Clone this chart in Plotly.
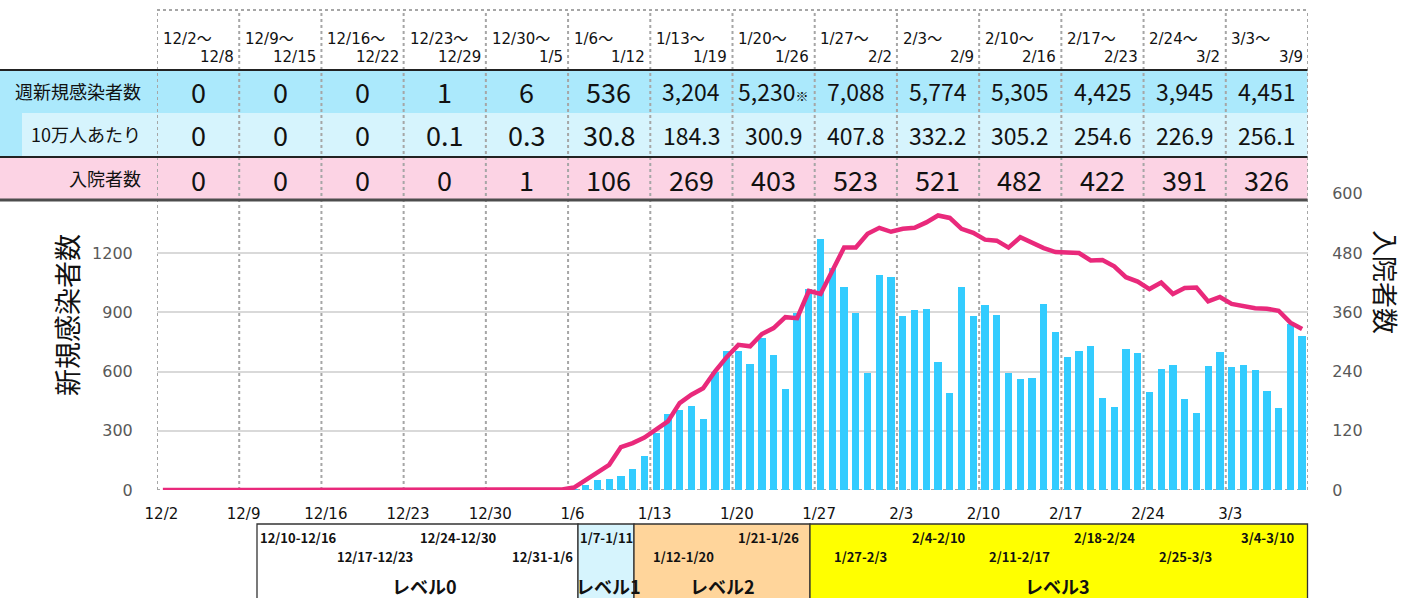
import plotly.graph_objects as go
import pandas as pd

W, H = 1404, 598

# ---------------- data ----------------
week_start_labels = ["12/2～", "12/9～", "12/16～", "12/23～", "12/30～", "1/6～", "1/13～",
                     "1/20～", "1/27～", "2/3～", "2/10～", "2/17～", "2/24～", "3/3～"]
week_end_labels = ["12/8", "12/15", "12/22", "12/29", "1/5", "1/12", "1/19",
                   "1/26", "2/2", "2/9", "2/16", "2/23", "3/2", "3/9"]
weekly_cases = ["0", "0", "0", "1", "6", "536", "3,204", "5,230※", "7,088",
                "5,774", "5,305", "4,425", "3,945", "4,451"]
per_100k = ["0", "0", "0", "0.1", "0.3", "30.8", "184.3", "300.9", "407.8",
            "332.2", "305.2", "254.6", "226.9", "256.1"]
weekly_hosp = ["0", "0", "0", "0", "1", "106", "269", "403", "523",
               "521", "482", "422", "391", "326"]
axis_tick_labels = ["12/2", "12/9", "12/16", "12/23", "12/30", "1/6", "1/13",
                    "1/20", "1/27", "2/3", "2/10", "2/17", "2/24", "3/3"]

dates = pd.date_range("2021-12-02", "2022-03-09", freq="D")

daily_cases = (
    [0, 0, 0, 0, 0, 0, 0] +
    [0, 0, 0, 0, 0, 0, 0] +
    [0, 0, 0, 0, 0, 0, 0] +
    [0, 0, 0, 0, 1, 0, 0] +
    [0, 1, 0, 0, 1, 2, 2] +
    [8, 25, 54, 56, 71, 106, 172] +
    [291, 385, 406, 426, 360, 600, 706] +
    [705, 639, 769, 683, 512, 896, 1017] +
    [1274, 1124, 1031, 896, 592, 1088, 1080] +
    [882, 914, 918, 649, 490, 1028, 880] +
    [936, 887, 592, 563, 570, 941, 799] +
    [673, 703, 730, 465, 421, 715, 693] +
    [500, 612, 632, 460, 389, 630, 698] +
    [625, 634, 610, 505, 414, 842, 781]
)

hospitalized = (
    [0] * 34 + [1] +
    [5, 20, 34, 51, 87, 95, 106] +
    [122, 139, 176, 193, 206, 240, 269] +
    [294, 291, 316, 328, 350, 348, 403] +
    [397, 446, 491, 491, 519, 531, 523] +
    [529, 531, 542, 556, 551, 529, 521] +
    [507, 505, 491, 512, 500, 490, 482] +
    [481, 480, 465, 466, 453, 431, 422] +
    [407, 420, 397, 409, 410, 382, 391] +
    [377, 372, 368, 367, 363, 339, 326]
)

level_names = ["レベル0", "レベル1", "レベル2", "レベル3"]
period_labels_a = ["12/10-12/16", "12/24-12/30", "1/7-1/11", "1/21-1/26", "2/4-2/10", "2/18-2/24", "3/4-3/10"]
period_labels_b = ["12/17-12/23", "12/31-1/6", "1/12-1/20", "1/27-2/3", "2/11-2/17", "2/25-3/3"]

# ---------------- helpers ----------------
def px(x):
    return x / W

def py(y):
    return 1 - y / H

HALF = pd.Timedelta(hours=12)
boundaries = [dates[0] - HALF + pd.Timedelta(days=7 * k) for k in range(15)]

JP = "Noto Sans CJK JP"
VER = "DejaVu Sans, Noto Sans CJK JP"

C_ROW1 = "#abe9fc"
C_ROW2 = "#d6f4fd"
C_ROW3 = "#fcd3e4"
C_BAR = "#33ccff"
C_LINE = "#e9297b"

fig = go.Figure()

fig.add_trace(go.Bar(
    x=dates, y=daily_cases, marker=dict(color=C_BAR, line=dict(width=0)),
    width=0.62 * 86400000, yaxis="y", showlegend=False, hoverinfo="x+y"))

fig.add_trace(go.Scatter(
    x=dates, y=hospitalized, mode="lines", line=dict(color=C_LINE, width=4.5),
    yaxis="y2", showlegend=False))

shapes = []
T_L, T_R = 0, 1307.5
shapes.append(dict(type="rect", xref="paper", yref="paper", x0=px(T_L), x1=px(T_R),
                   y0=py(113), y1=py(70), fillcolor=C_ROW1, line=dict(width=0), layer="below"))
shapes.append(dict(type="rect", xref="paper", yref="paper", x0=px(0), x1=px(22),
                   y0=py(157), y1=py(113), fillcolor=C_ROW1, line=dict(width=0), layer="below"))
shapes.append(dict(type="rect", xref="paper", yref="paper", x0=px(22), x1=px(T_R),
                   y0=py(157), y1=py(113), fillcolor=C_ROW2, line=dict(width=0), layer="below"))
shapes.append(dict(type="rect", xref="paper", yref="paper", x0=px(T_L), x1=px(T_R),
                   y0=py(200), y1=py(157), fillcolor=C_ROW3, line=dict(width=0), layer="below"))

for b in boundaries:
    shapes.append(dict(type="line", xref="x", yref="paper", x0=b, x1=b,
                       y0=py(490), y1=py(10), line=dict(color="#a6a6a6", width=2, dash="dot"),
                       layer="below"))
shapes.append(dict(type="line", xref="x", yref="paper", x0=boundaries[0], x1=boundaries[-1],
                   y0=py(10), y1=py(10), line=dict(color="#a6a6a6", width=2, dash="dot"), layer="below"))
shapes.append(dict(type="line", xref="x", yref="y", x0=boundaries[0], x1=boundaries[-1],
                   y0=0, y1=0, line=dict(color="#a6a6a6", width=2, dash="dot"), layer="below"))

shapes.append(dict(type="line", xref="paper", yref="paper", x0=px(0), x1=px(T_R),
                   y0=py(70), y1=py(70), line=dict(color="#222222", width=2)))
shapes.append(dict(type="line", xref="paper", yref="paper", x0=px(0), x1=px(T_R),
                   y0=py(157), y1=py(157), line=dict(color="#222222", width=2)))
shapes.append(dict(type="line", xref="paper", yref="paper", x0=px(0), x1=px(T_R),
                   y0=py(200), y1=py(200), line=dict(color="#4d4d4d", width=3)))

level_boxes = [(257, 578, "#ffffff"), (578, 634, C_ROW2), (634, 810, "#ffd59b"), (810, 1307.5, "#ffff00")]
for x0, x1, col in level_boxes:
    shapes.append(dict(type="rect", xref="paper", yref="paper", x0=px(x0), x1=px(x1),
                       y0=py(610), y1=py(524), fillcolor=col,
                       line=dict(color="#333333", width=1.3)))

annotations = []
col_w = (1307.5 - 157) / 14
for i in range(14):
    cl = 157 + i * col_w
    cr = cl + col_w
    annotations.append(dict(x=px(cl + 4), y=py(39), xref="paper", yref="paper", xanchor="left",
                            yanchor="middle", text=week_start_labels[i], showarrow=False,
                            font=dict(family=VER, size=15, color="#111")))
    annotations.append(dict(x=px(cr - 3), y=py(57), xref="paper", yref="paper", xanchor="right",
                            yanchor="middle", text=week_end_labels[i], showarrow=False,
                            font=dict(family=VER, size=15, color="#111")))
    cc = (cl + cr) / 2
    t1 = weekly_cases[i]
    big1 = len(t1) <= 3
    if "※" in t1:
        t1 = t1.replace("※", "<span style='font-size:13px'>※</span>")
    annotations.append(dict(x=px(cc), y=py(91), xref="paper", yref="paper", xanchor="center",
                            yanchor="middle", text=t1, showarrow=False,
                            font=dict(family=JP, size=27 if big1 else 23, color="#111")))
    t2 = per_100k[i]
    big2 = len(t2) <= 4
    annotations.append(dict(x=px(cc), y=py(135), xref="paper", yref="paper", xanchor="center",
                            yanchor="middle", text=t2, showarrow=False,
                            font=dict(family=JP, size=27 if big2 else 23, color="#111")))
    annotations.append(dict(x=px(cc), y=py(179), xref="paper", yref="paper", xanchor="center",
                            yanchor="middle", text=weekly_hosp[i], showarrow=False,
                            font=dict(family=JP, size=27, color="#111")))

for txt, yy in [("週新規感染者数", 91), ("10万人あたり", 134), ("入院者数", 178)]:
    annotations.append(dict(x=px(143), y=py(yy), xref="paper", yref="paper", xanchor="right",
                            yanchor="middle", text=txt, showarrow=False,
                            font=dict(family=JP, size=18, color="#111")))

annotations.append(dict(x=px(66), y=py(315), xref="paper", yref="paper", xanchor="center",
                        yanchor="middle", text="新規感染者数", textangle=-90, showarrow=False,
                        font=dict(family=JP, size=27, color="#111")))
annotations.append(dict(x=px(1387), y=py(282), xref="paper", yref="paper", xanchor="center",
                        yanchor="middle", text="入院者数", textangle=90, showarrow=False,
                        font=dict(family=JP, size=26, color="#111")))

pa_pos = [(258, "left"), (418, "left"), (578, "left"), (801, "right"), (910, "left"), (1072, "left"), (1297, "right")]
for t, (xx, anc) in zip(period_labels_a, pa_pos):
    annotations.append(dict(x=px(xx), y=py(537), xref="paper", yref="paper", xanchor=anc,
                            yanchor="middle", text="<b>" + t + "</b>", showarrow=False,
                            font=dict(family=JP, size=13, color="#111")))
pb_pos = [(335, "left"), (575, "right"), (651, "left"), (832, "left"), (987, "left"), (1157, "left")]
for t, (xx, anc) in zip(period_labels_b, pb_pos):
    annotations.append(dict(x=px(xx), y=py(556), xref="paper", yref="paper", xanchor=anc,
                            yanchor="middle", text="<b>" + t + "</b>", showarrow=False,
                            font=dict(family=JP, size=13, color="#111")))
lv_pos = [424, 608, 722, 1057]
for t, xx in zip(level_names, lv_pos):
    annotations.append(dict(x=px(xx), y=py(586), xref="paper", yref="paper", xanchor="center",
                            yanchor="middle", text="<b>" + t + "</b>", showarrow=False,
                            font=dict(family=JP, size=18, color="#111")))

tick_pos = [b + pd.Timedelta(hours=9) for b in boundaries[:14]]

fig.update_layout(
    template="none",
    width=W, height=H, margin=dict(l=0, r=0, t=0, b=0, pad=0, autoexpand=False),
    paper_bgcolor="white", plot_bgcolor="rgba(0,0,0,0)",
    bargap=0,
    xaxis=dict(type="date", domain=[px(157), px(1308)],
               range=[boundaries[0], boundaries[-1]], automargin=False,
               tickvals=tick_pos, ticktext=axis_tick_labels,
               showgrid=False, zeroline=False, showline=False,
               ticks="outside", ticklen=10, tickcolor="rgba(0,0,0,0)",
               tickfont=dict(family=VER, size=15, color="#111")),
    yaxis=dict(domain=[py(490), py(193.75)], range=[0, 1500], automargin=False,
               tickvals=[0, 300, 600, 900, 1200], showgrid=True,
               gridcolor="#d9d9d9", gridwidth=2, zeroline=False, showline=False,
               ticks="outside", ticklen=20, tickcolor="rgba(0,0,0,0)",
               tickfont=dict(family=VER, size=16, color="#595959")),
    yaxis2=dict(overlaying="y", side="right", range=[0, 600], automargin=False,
                tickvals=[0, 120, 240, 360, 480, 600], showgrid=False,
                zeroline=False, showline=False,
                ticks="outside", ticklen=20, tickcolor="rgba(0,0,0,0)",
                tickfont=dict(family=VER, size=16, color="#595959")),
    shapes=shapes, annotations=annotations,
)

fig.write_html(
    "out.html",
    config={"displayModeBar": False},
    post_script="document.body.style.margin='0';document.body.style.overflow='hidden';",
)
